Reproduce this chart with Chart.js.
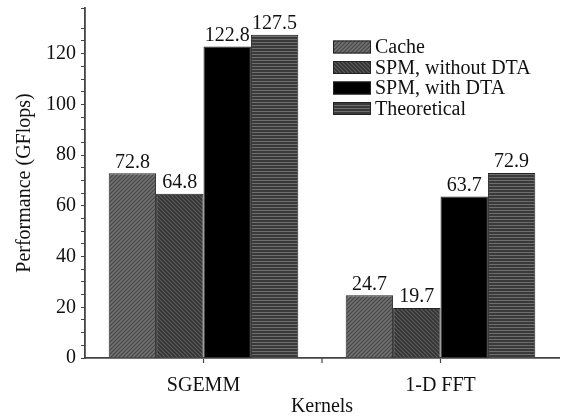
<!DOCTYPE html>
<html><head><meta charset="utf-8">
<script src="https://cdn.jsdelivr.net/npm/chart.js@4/dist/chart.umd.min.js"></script>
<style>html,body{margin:0;padding:0;background:#fff}#wrap{width:561px;height:419px}</style>
</head><body><div id="wrap"><canvas id="c"></canvas></div>
<script>
const categories = ['SGEMM', '1-D FFT'];
const seriesNames = ['Cache', 'SPM, without DTA', 'SPM, with DTA', 'Theoretical'];
const cacheVals = [72.8, 24.7];
const spmNoDtaVals = [64.8, 19.7];
const spmDtaVals = [122.8, 63.7];
const theoreticalVals = [127.5, 72.9];
const yTickLabels = [0, 20, 40, 60, 80, 100, 120];

const FONT = '"Liberation Serif", "Times New Roman", serif';

function makePattern(kind) {
  const s = 4;
  const cv = document.createElement('canvas');
  cv.width = s; cv.height = s;
  const g = cv.getContext('2d');
  if (kind === 'fwd') {
    g.fillStyle = '#727272'; g.fillRect(0, 0, s, s);
    g.strokeStyle = '#454545'; g.lineWidth = 1.2;
    g.beginPath();
    g.moveTo(0, s); g.lineTo(s, 0);
    g.moveTo(-s/2, s/2); g.lineTo(s/2, -s/2);
    g.moveTo(s/2, s*1.5); g.lineTo(s*1.5, s/2);
    g.stroke();
  } else if (kind === 'back') {
    g.fillStyle = '#333'; g.fillRect(0, 0, s, s);
    g.strokeStyle = '#5e5e5e'; g.lineWidth = 1.1;
    g.beginPath();
    g.moveTo(0, 0); g.lineTo(s, s);
    g.moveTo(-s/2, s/2); g.lineTo(s/2, s*1.5);
    g.moveTo(s/2, -s/2); g.lineTo(s*1.5, s/2);
    g.stroke();
  } else {
    cv.height = 3;
    g.fillStyle = '#3a3a3a'; g.fillRect(0, 0, s, 3);
    g.fillStyle = '#6e6e6e'; g.fillRect(0, 0, s, 1);
  }
  return document.createElement('canvas').getContext('2d').createPattern(cv, 'repeat');
}

const fills = [makePattern('fwd'), makePattern('back'), '#000000', makePattern('horiz')];
const dataSets = [cacheVals, spmNoDtaVals, spmDtaVals, theoreticalVals];

const valueLabels = {
  id: 'valueLabels',
  afterDatasetsDraw(chart) {
    const ctx = chart.ctx;
    ctx.save();
    ctx.font = '20px ' + FONT;
    ctx.fillStyle = '#111';
    ctx.textAlign = 'center';
    ctx.textBaseline = 'bottom';
    chart.data.datasets.forEach((ds, i) => {
      chart.getDatasetMeta(i).data.forEach((bar, j) => {
        ctx.fillText(ds.data[j].toFixed(1), bar.x, bar.y - 1);
      });
    });
    ctx.restore();
  }
};

const insideLegend = {
  id: 'insideLegend',
  afterDraw(chart) {
    const ctx = chart.ctx;
    ctx.save();
    ctx.font = '20px ' + FONT;
    ctx.textBaseline = 'middle';
    ctx.textAlign = 'left';
    const x0 = 333, y0 = 47, dy = 20.5, bw = 38, bh = 13;
    chart.data.datasets.forEach((ds, i) => {
      const y = y0 + i * dy;
      ctx.fillStyle = ds.backgroundColor;
      ctx.fillRect(x0, y - bh/2, bw, bh);
      ctx.strokeStyle = '#222'; ctx.lineWidth = 1;
      ctx.strokeRect(x0 + 0.5, y - bh/2 + 0.5, bw - 1, bh - 1);
      ctx.fillStyle = '#111';
      ctx.fillText(ds.label, x0 + bw + 4, y + 1);
    });
    const xs = chart.scales.x;
    const mid = (xs.getPixelForValue(0) + xs.getPixelForValue(1)) / 2;
    ctx.strokeStyle = '#444'; ctx.lineWidth = 1.2;
    ctx.beginPath();
    ctx.moveTo(mid, xs.top); ctx.lineTo(mid, xs.top + 5);
    ctx.stroke();
    ctx.restore();
  }
};

new Chart(document.getElementById('c'), {
  type: 'bar',
  data: {
    labels: categories,
    datasets: seriesNames.map((n, i) => ({
      label: n,
      data: dataSets[i],
      backgroundColor: fills[i],
      borderColor: '#222',
      borderWidth: 1,
      categoryPercentage: 0.8,
      barPercentage: 1.0
    }))
  },
  options: {
    responsive: true,
    maintainAspectRatio: false,
    animation: false,
    layout: { padding: { top: 8, right: 2, left: 0, bottom: 0 } },
    plugins: { legend: { display: false }, tooltip: { enabled: false } },
    scales: {
      x: {
        grid: { display: true, drawOnChartArea: false, offset: false, tickLength: 5, color: '#444', tickWidth: 1.2 },
        border: { color: '#444', width: 1.8 },
        ticks: { font: { family: FONT, size: 20 }, color: '#111', padding: 11 },
        title: { display: true, text: 'Kernels', font: { family: FONT, size: 20 }, color: '#111', padding: { top: 0, bottom: 0 } },
        afterFit(s) { s.height = 61; s.paddingLeft = 0; s.paddingRight = 0; }
      },
      y: {
        min: 0, max: 138,
        grid: { display: true, drawOnChartArea: false, tickLength: 4, color: '#444', tickWidth: 1 },
        border: { color: '#444', width: 1.8 },
        ticks: {
          stepSize: 5, autoSkip: false,
          font: { family: FONT, size: 20 }, color: '#111', padding: 5,
          callback: v => (yTickLabels.includes(v) ? String(v) : '')
        },
        title: { display: true, text: 'Performance (GFlops)', font: { family: FONT, size: 20 }, color: '#111', padding: { top: 13, bottom: 0 } },
        afterFit(s) { s.width = 85; s.paddingTop = 0; s.paddingBottom = 0; }
      }
    }
  },
  plugins: [valueLabels, insideLegend]
});
</script></body></html>
